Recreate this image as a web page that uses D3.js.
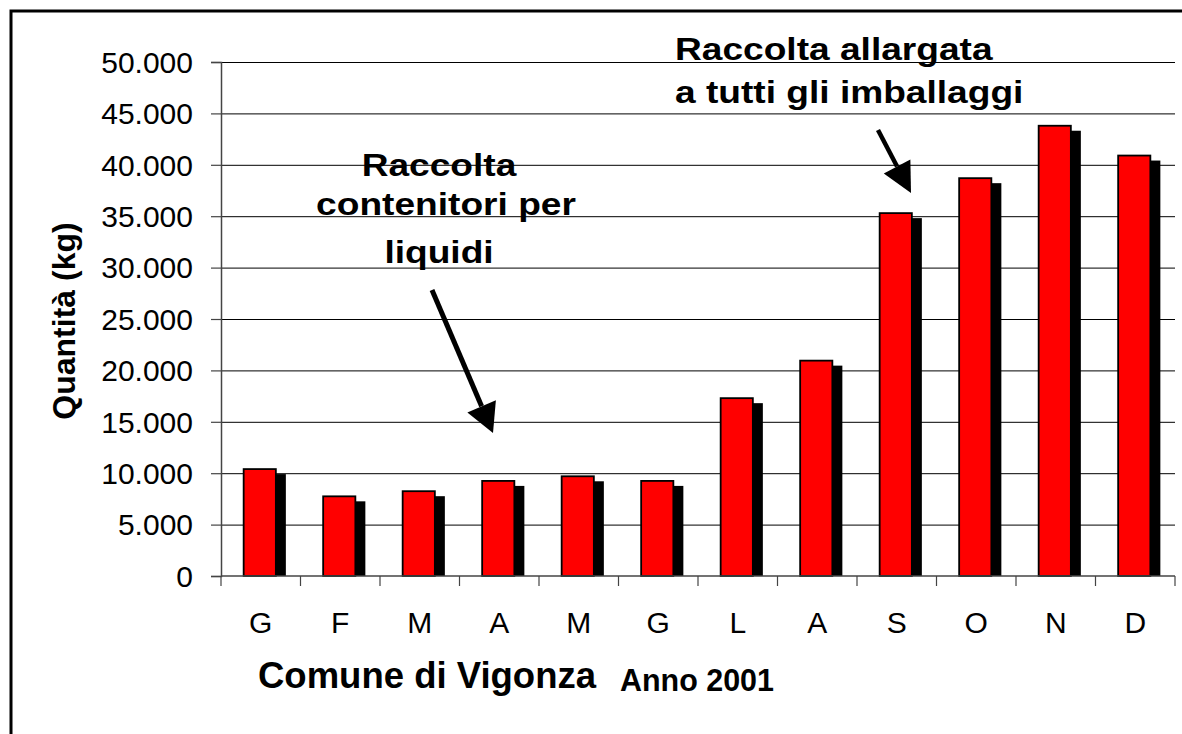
<!DOCTYPE html>
<html>
<head>
<meta charset="utf-8">
<script src="https://cdn.jsdelivr.net/npm/d3@7"></script>
<style>
  html, body { margin: 0; padding: 0; background: #fff; overflow: hidden; }
  svg { display: block; overflow: hidden; font-family: "Liberation Sans", Arial, Helvetica, sans-serif; }
</style>
</head>
<body>
<svg id="chart" width="1182" height="734"></svg>
<script>
// ---- data ----
const months = ["G", "F", "M", "A", "M", "G", "L", "A", "S", "O", "N", "D"];
const quantities = [10400, 7750, 8250, 9250, 9700, 9250, 17300, 20950, 35300, 38700, 43800, 40900];
const yTicks = [0, 5000, 10000, 15000, 20000, 25000, 30000, 35000, 40000, 45000, 50000];
const yTitle = "Quantità (kg)";
const xTitle = "Comune di Vigonza";
const xSubTitle = "Anno 2001";
const note1Lines = ["Raccolta", "contenitori per", "liquidi"];
const note2Lines = ["Raccolta allargata", "a tutti gli imballaggi"];

// ---- layout ----
const svg = d3.select("#chart");
const plot = { left: 221, right: 1175, top: 62, bottom: 576 };

svg.append("rect").attr("x", 0).attr("y", 0).attr("width", 1182).attr("height", 734).attr("fill", "#fff");
// outer frame (extends beyond the viewport on right/bottom)
svg.append("rect").attr("x", 11).attr("y", 11).attr("width", 1200).attr("height", 760)
  .attr("fill", "none").attr("stroke", "#000").attr("stroke-width", 3);

const idx = months.map((d, i) => i);
const x = d3.scaleBand().domain(idx).range([plot.left, plot.right]).padding(0);
const y = d3.scaleLinear().domain([0, 50000]).range([plot.bottom, plot.top]);
const bw = x.bandwidth();

// gridlines
svg.append("g").selectAll("line").data(yTicks.filter(d => d > 0)).join("line")
  .attr("x1", plot.left).attr("x2", plot.right)
  .attr("y1", d => y(d) + 0.5).attr("y2", d => y(d) + 0.5)
  .attr("stroke", "#000").attr("stroke-width", 1);

// bars: shadow then red bar
const bars = svg.append("g");
bars.selectAll("rect.shadow").data(quantities).join("rect").attr("class", "shadow")
  .attr("x", (d, i) => x(i) + bw * 0.285 + 10)
  .attr("y", d => y(d) + 5)
  .attr("width", bw * 0.405)
  .attr("height", d => y(0) - y(d) - 5)
  .attr("fill", "#000");
bars.selectAll("rect.bar").data(quantities).join("rect").attr("class", "bar")
  .attr("x", (d, i) => x(i) + bw * 0.285)
  .attr("y", d => y(d))
  .attr("width", bw * 0.405)
  .attr("height", d => y(0) - y(d))
  .attr("fill", "#ff0000").attr("stroke", "#000").attr("stroke-width", 1.8);

// y axis
const fmt = d => d3.format(",")(d).replace(/,/g, ".");
const yAxis = svg.append("g").attr("transform", `translate(${plot.left},0)`)
  .call(d3.axisLeft(y).tickValues(yTicks).tickSize(10).tickPadding(18).tickFormat(fmt));
yAxis.select(".domain").attr("stroke", "#444").attr("stroke-width", 1.5);
yAxis.selectAll(".tick line").attr("stroke", "#444").attr("stroke-width", 1.2);
yAxis.selectAll("text").attr("font-size", 30).attr("fill", "#000")
  .attr("font-family", "'Liberation Sans', Arial, sans-serif").attr("dy", "0.34em");

// x axis
const xAxis = svg.append("g").attr("transform", `translate(0,${plot.bottom})`)
  .call(d3.axisBottom(x).tickSize(0).tickFormat(i => months[i]));
xAxis.select(".domain").remove();
xAxis.selectAll("text").attr("font-size", 30).attr("fill", "#000")
  .attr("font-family", "'Liberation Sans', Arial, sans-serif")
  .attr("y", 57).attr("dy", 0);
svg.append("line").attr("x1", plot.left).attr("x2", plot.right)
  .attr("y1", plot.bottom).attr("y2", plot.bottom).attr("stroke", "#444").attr("stroke-width", 1.5);
svg.append("g").selectAll("line").data(d3.range(months.length + 1)).join("line")
  .attr("x1", i => plot.left + i * bw).attr("x2", i => plot.left + i * bw)
  .attr("y1", plot.bottom).attr("y2", plot.bottom + 10)
  .attr("stroke", "#444").attr("stroke-width", 1.2);

// axis titles
svg.append("text").attr("transform", "translate(75,321) rotate(-90)")
  .attr("text-anchor", "middle").attr("font-size", 32).attr("font-weight", "bold").text(yTitle);
svg.append("text").attr("x", 258).attr("y", 688).attr("font-size", 36.5).attr("font-weight", "bold").text(xTitle);
svg.append("text").attr("x", 620).attr("y", 691).attr("font-size", 31).attr("font-weight", "bold")
  .attr("textLength", 154).attr("lengthAdjust", "spacingAndGlyphs").text(xSubTitle);

// annotations
const note1Pos = [[439, 176], [446, 215], [439, 263]];
note1Lines.forEach((t, i) => {
  svg.append("text").attr("transform", `translate(${note1Pos[i][0]},${note1Pos[i][1]}) scale(1.16,1)`)
    .attr("text-anchor", "middle").attr("font-size", 32).attr("font-weight", "bold").text(t);
});
const note2Pos = [[675, 60], [675, 103]];
note2Lines.forEach((t, i) => {
  svg.append("text").attr("transform", `translate(${note2Pos[i][0]},${note2Pos[i][1]}) scale(1.16,1)`)
    .attr("text-anchor", "start").attr("font-size", 32).attr("font-weight", "bold").text(t);
});

function arrow(x1, y1, x2, y2, w, headLen, headW) {
  const ang = Math.atan2(y2 - y1, x2 - x1);
  const bx = x2 - headLen * Math.cos(ang), by = y2 - headLen * Math.sin(ang);
  svg.append("line").attr("x1", x1).attr("y1", y1).attr("x2", bx).attr("y2", by)
    .attr("stroke", "#000").attr("stroke-width", w);
  const px = -Math.sin(ang) * headW / 2, py = Math.cos(ang) * headW / 2;
  svg.append("path").attr("d", `M${x2},${y2}L${bx + px},${by + py}L${bx - px},${by - py}Z`).attr("fill", "#000");
}
arrow(432, 290, 493, 433, 5, 29, 31);
arrow(878, 130, 911, 193, 4.5, 30, 30);
</script>
</body>
</html>
